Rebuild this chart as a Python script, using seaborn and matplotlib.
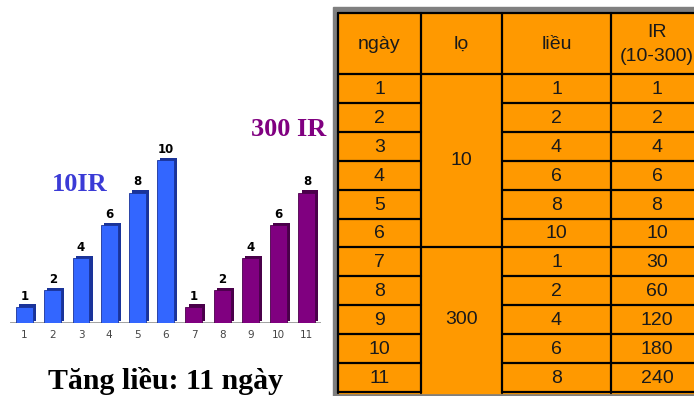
import matplotlib
matplotlib.use("Agg")
import matplotlib.pyplot as plt
import matplotlib.patheffects as pe
from matplotlib.patches import Rectangle
import pandas as pd
import seaborn as sns

sns.set_style("white")

days = [1, 2, 3, 4, 5, 6, 7, 8, 9, 10, 11]
doses = [1, 2, 4, 6, 8, 10, 1, 2, 4, 6, 8]
vials = ["10", "10", "10", "10", "10", "10", "300", "300", "300", "300", "300"]
ir = [1, 2, 4, 6, 8, 10, 30, 60, 120, 180, 240]
headers = ["ngày", "lọ", "liều", "IR\n(10-300)"]

df = pd.DataFrame({"day": days, "dose": doses, "vial": vials})
colors = {"10": "#3366FF", "300": "#800080"}
shadows = {"10": "#1a3399", "300": "#4a004a"}

fig = plt.figure(figsize=(6.94, 3.96), dpi=100)

# bar chart
ax = fig.add_axes([0.015, 0.1843, 0.4476, 0.563])
sns.barplot(data=df, x="day", y="dose", hue="vial", palette=colors,
            dodge=False, width=0.6, legend=False, ax=ax, saturation=1)
for cont, v in zip(ax.containers, ["10", "300"]):
    for bar in cont:
        bar.set_edgecolor(shadows[v])
        bar.set_linewidth(0.6)
        bar.set_path_effects([pe.SimplePatchShadow(offset=(2.2, 1.6), shadow_rgbFace=shadows[v], alpha=1),
                              pe.Normal()])
    ax.bar_label(cont, padding=3, fontsize=8.5, fontweight="bold", color="black")
ax.set_ylim(0, 13.68)
ax.set_xlim(-0.5, 10.5)
ax.axhline(0, color="#999999", lw=2, zorder=0)
sns.despine(ax=ax, left=True, bottom=True)
ax.set_yticks([])
ax.set_xlabel("")
ax.set_ylabel("")
ax.tick_params(axis="x", length=0, pad=5, labelsize=7.5, labelcolor="#444444")

fig.text(80 / 694, 1 - 185 / 396, "10IR", family="Liberation Serif", fontweight="bold",
         fontsize=19, color="#3B3BD6", ha="center", va="center")
fig.text(289 / 694, 1 - 130 / 396, "300 IR", family="Liberation Serif", fontweight="bold",
         fontsize=19, color="#800080", ha="center", va="center")
fig.text(166 / 694, 1 - 381 / 396, "Tăng liều: 11 ngày", family="Liberation Serif",
         fontweight="bold", fontsize=21.5, color="black", ha="center", va="center")

# table
tx = fig.add_axes([0, 0, 1, 1], zorder=-1)
tx.set_xlim(0, 694)
tx.set_ylim(396, 0)
tx.axis("off")
tx.add_patch(Rectangle((333, 7), 400, 400, color="#7f7f7f"))
tx.add_patch(Rectangle((338, 13), 400, 380, color="#FF9900"))

cols = [338, 421, 502, 611, 703]
top, head_bot, row_h = 13, 74, 28.9
lw = 1.6
tx.plot([338, 694], [top, top], color="black", lw=lw)
tx.plot([338, 694], [head_bot, head_bot], color="black", lw=lw)
for x in cols[:4]:
    tx.plot([x, x], [top, 393], color="black", lw=lw)
for i in range(1, 12):
    y = head_bot + i * row_h
    tx.plot([338, 421], [y, y], color="black", lw=lw)
    tx.plot([502, 694], [y, y], color="black", lw=lw)
tx.plot([421, 502], [head_bot + 6 * row_h] * 2, color="black", lw=lw)

txt = dict(family="Liberation Sans", fontsize=14, color="#1a1a1a", ha="center", va="center")
for j, h in enumerate(headers):
    cx = (cols[j] + cols[j + 1]) / 2
    tx.text(cx, (top + head_bot) / 2 + 1, h, linespacing=1.5, **txt)
for i in range(len(days)):
    cy = head_bot + (i + 0.5) * row_h + 1
    tx.text((cols[0] + cols[1]) / 2, cy, str(days[i]), **txt)
    tx.text((cols[2] + cols[3]) / 2, cy, str(doses[i]), **txt)
    tx.text((cols[3] + cols[4]) / 2, cy, str(ir[i]), **txt)
for v in ["10", "300"]:
    idx = [i for i, g in enumerate(vials) if g == v]
    cy = head_bot + (idx[0] + idx[-1] + 1) / 2 * row_h
    tx.text((cols[1] + cols[2]) / 2, cy, v, **txt)

fig.savefig("out.png", dpi=100)
